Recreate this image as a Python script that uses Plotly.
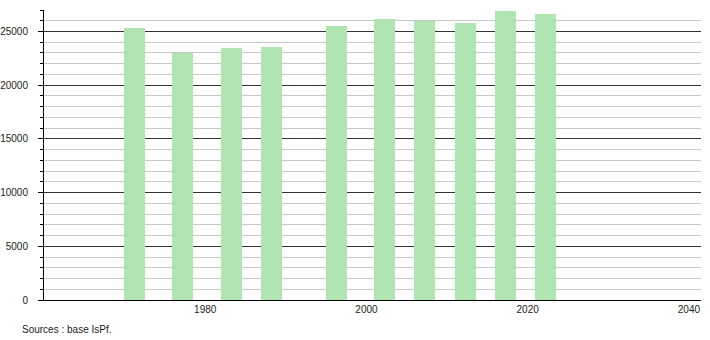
import plotly.graph_objects as go

years = [1971, 1977, 1983, 1988, 1996, 2002, 2007, 2012, 2017, 2022]
population = [25342, 22967, 23496, 23555, 25553, 26181, 26017, 25769, 26926, 26654]
x_ticks = [1980, 2000, 2020, 2040]
source_text = "Sources : base IsPf."

fig = go.Figure()
fig.add_trace(go.Bar(
    x=years, y=population,
    width=2.6, offset=-1.07,
    marker=dict(color="rgb(176,228,176)", line=dict(width=0)),
    hoverinfo="skip",
))

font = dict(family="Liberation Sans, Arial, sans-serif", size=10, color="#222")

fig.update_layout(
    width=710, height=340,
    margin=dict(l=44, r=9, t=10, b=40, autoexpand=False),
    paper_bgcolor="white", plot_bgcolor="white",
    showlegend=False,
    font=font,
    bargap=0,
)
fig.update_xaxes(
    range=[1960, 2041.5],
    tickmode="array", tickvals=x_ticks, ticktext=[str(v) for v in x_ticks],
    showgrid=False, zeroline=False,
    showline=True, linecolor="black", linewidth=1,
    ticks="", tickfont=font, automargin=False,
)
fig.update_yaxes(
    range=[0, 27000],
    tickmode="linear", tick0=0, dtick=5000, tickformat="d",
    showgrid=True, gridcolor="#333", gridwidth=1,
    zeroline=False,
    showline=True, linecolor="black", linewidth=1,
    ticks="outside", ticklen=5, tickcolor="black",
    ticklabelstandoff=8,
    minor=dict(dtick=1000, showgrid=True, gridcolor="#c8c8c8", gridwidth=1,
               ticks="outside", ticklen=3, tickcolor="black"),
    tickfont=font, automargin=False,
)
fig.add_annotation(
    text=source_text, xref="paper", yref="paper",
    x=-0.036, y=-0.1, xanchor="left", yanchor="middle",
    showarrow=False, font=font,
)
fig.write_html("out.html")
